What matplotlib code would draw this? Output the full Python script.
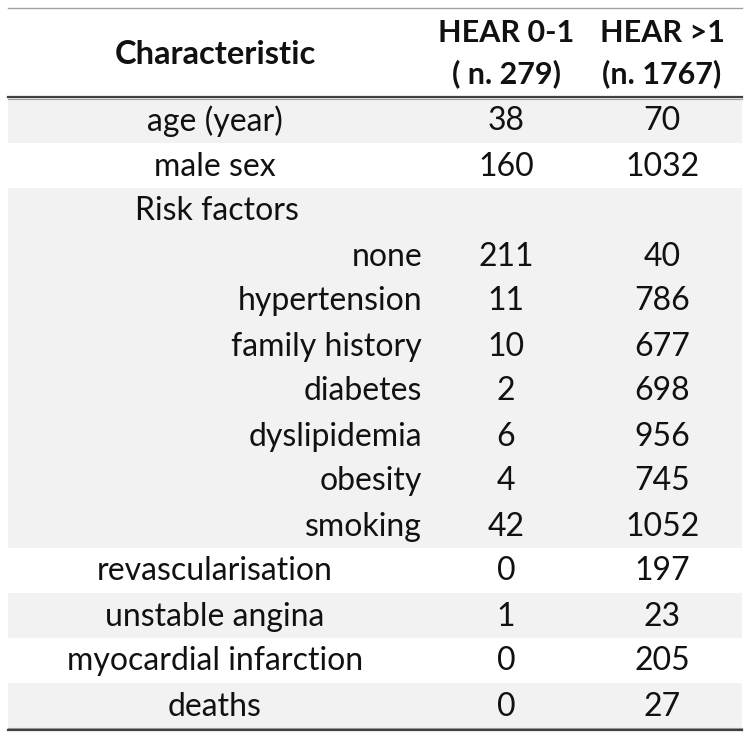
import matplotlib.pyplot as plt
from matplotlib.patches import Rectangle

# ----- DATA -----
col_headers = [['HEAR 0-1', '( n. 279)'], ['HEAR >1', '(n. 1767)']]
row_labels = ['age (year)', 'male sex', 'Risk factors', 'none', 'hypertension',
              'family history', 'diabetes', 'dyslipidemia', 'obesity', 'smoking',
              'revascularisation', 'unstable angina', 'myocardial infarction', 'deaths']
hear_low = ['38', '160', '', '211', '11', '10', '2', '6', '4', '42', '0', '1', '0', '0']
hear_high = ['70', '1032', '', '40', '786', '677', '698', '956', '745', '1052', '197', '23', '205', '27']
# 0 = centred label, 1 = section title, 2 = indented sub-item
row_kind = [0, 0, 1, 2, 2, 2, 2, 2, 2, 2, 0, 0, 0, 0]
shaded = [1, 0, 1, 1, 1, 1, 1, 1, 1, 1, 0, 1, 0, 1]

# ----- LAYOUT (pixels) -----
W, H = 750, 738
x0, x1 = 8, 742
top, head_bot = 8, 98
row_h = 45.0
x_lab, x_c1, x_c2 = 215, 506, 662
x_sub_right, x_sec_left = 422, 135
grey = '#f2f2f2'
fs = 23
fs_head = 22

plt.rcParams['font.family'] = ['Lato', 'DejaVu Sans']

fig = plt.figure(figsize=(W / 100, H / 100), dpi=100)
ax = fig.add_axes([0, 0, 1, 1])
ax.set_xlim(0, W)
ax.set_ylim(H, 0)
ax.axis('off')

# shaded bands
for i, s in enumerate(shaded):
    if s:
        y = head_bot + i * row_h
        ax.add_patch(Rectangle((x0, y), x1 - x0, row_h, facecolor=grey, edgecolor='none'))

# header
ax.text(x_lab, (top + head_bot) / 2 + 1, 'Characteristic', ha='center', va='center',
        fontsize=fs + 0.5, fontweight='bold', color='#111111')
for xc, (l1, l2) in zip([x_c1, x_c2], col_headers):
    ax.text(xc, 33, l1, ha='center', va='center', fontsize=fs_head, fontweight='bold', color='#111111')
    ax.text(xc, 74, l2, ha='center', va='center', fontsize=fs_head, fontweight='bold', color='#111111')

# body
for i, (lab, a, b, k) in enumerate(zip(row_labels, hear_low, hear_high, row_kind)):
    yc = head_bot + (i + 0.5) * row_h + 1
    if k == 0:
        ax.text(x_lab, yc, lab, ha='center', va='center', fontsize=fs, color='#111111')
    elif k == 1:
        ax.text(x_sec_left, yc, lab, ha='left', va='center', fontsize=fs, color='#111111')
    else:
        ax.text(x_sub_right, yc, lab, ha='right', va='center', fontsize=fs, color='#111111')
    ax.text(x_c1, yc, a, ha='center', va='center', fontsize=fs, color='#111111')
    ax.text(x_c2, yc, b, ha='center', va='center', fontsize=fs, color='#111111')

# rules
bottom = head_bot + len(row_labels) * row_h
ax.plot([x0, x1], [top, top], color='#a0a0a0', lw=1)
ax.plot([x0, x1], [head_bot - 1, head_bot - 1], color='#404040', lw=1.6)
ax.plot([x0, x1], [head_bot + 0.5, head_bot + 0.5], color='#a0a0a0', lw=0.8)
ax.plot([x0, x1], [bottom, bottom], color='#a0a0a0', lw=0.8)
ax.plot([x0, x1], [bottom + 1.5, bottom + 1.5], color='#404040', lw=1.6)

fig.savefig('out.png', dpi=100)
